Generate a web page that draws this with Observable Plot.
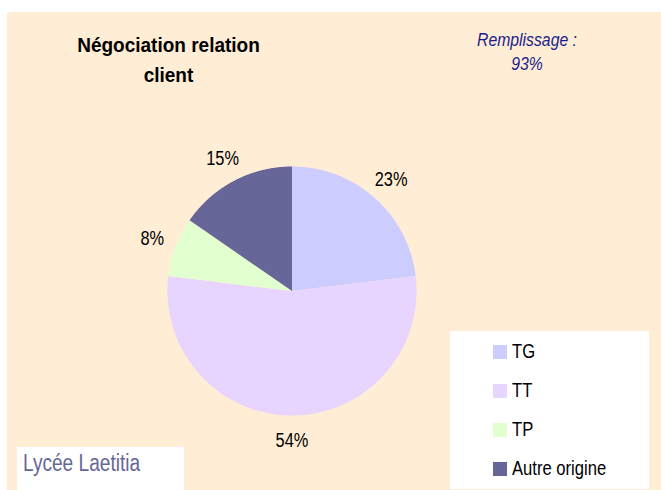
<!DOCTYPE html>
<html>
<head>
<meta charset="utf-8">
<script src="https://cdn.jsdelivr.net/npm/d3@7"></script>
<script src="https://cdn.jsdelivr.net/npm/@observablehq/plot@0.6"></script>
<style>
  html, body { margin: 0; padding: 0; background: #ffffff; }
  #wrap { position: relative; width: 661px; height: 490px; overflow: hidden; background: #ffffff; }
  #bg { position: absolute; left: 7px; top: 12px; right: 0; bottom: 0; background: #FFEDD5; }
  #chart { position: absolute; left: 0; top: 0; }
  .abs { position: absolute; white-space: nowrap; }
  .narrow { font-family: "Liberation Sans", Arial, sans-serif; transform: scaleX(0.83); }
  #title { left: 0; top: 30px; width: 337px; text-align: center; font-family: "Liberation Sans", Arial, sans-serif; font-weight: bold; font-size: 20px; line-height: 30px; color: #000; transform: scaleX(0.95); transform-origin: 168.5px 0; }
  #fill { left: 427px; top: 28px; width: 200px; text-align: center; font-style: italic; font-size: 19px; line-height: 24px; color: #1C1C8C; transform-origin: 100px 0; }
  #legend { left: 450px; top: 331px; width: 199px; height: 158px; background: #ffffff; }
  #school { left: 17px; top: 447px; width: 167px; height: 43px; background: #ffffff; }
  #schoolText { left: 23px; top: 452px; font-size: 23px; line-height: 23px; color: #666699; transform-origin: 0 0; }
  .sw { position: absolute; width: 14px; height: 14px; }
  .lt { position: absolute; font-size: 20px; line-height: 20px; color: #000; white-space: nowrap; transform-origin: 0 0; }
</style>
</head>
<body>
<div id="wrap">
  <div id="bg"></div>
  <div id="chart"></div>
  <div id="title" class="abs">Négociation relation<br>client</div>
  <div id="fill" class="abs narrow"></div>
  <div id="legend" class="abs"></div>
  <div id="school" class="abs"></div>
  <div id="schoolText" class="abs narrow">Lycée Laetitia</div>
</div>
<script>
// ---- data ----
const categories = ["TG", "TT", "TP", "Autre origine"];
const counts = [3, 7, 1, 2];
const colors = ["#CCCCFF", "#E8D5FF", "#E2FFD0", "#666699"];
const fillRate = "93%";

// ---- layout: pie centre (px) and radius (px) inside the 661x490 svg ----
const W = 661, H = 490, CX = 291.5, CY = 290.5, R = 124.5;

// ---- build slices (angles from 12 o'clock, clockwise), unit radius ----
const total = d3.sum(counts);
const pie = d3.pie().sort(null).value(d => d)(counts);
function pt(a, r) { return [r * Math.sin(a), -r * Math.cos(a)]; }
const slices = pie.map((p, i) => {
  const ring = [[0, 0]];
  const n = Math.max(2, Math.ceil((p.endAngle - p.startAngle) / 0.01));
  for (let k = 0; k <= n; k++) ring.push(pt(p.startAngle + (p.endAngle - p.startAngle) * k / n, 1));
  ring.push([0, 0]);
  return {type: "Feature", properties: {cat: categories[i]}, geometry: {type: "Polygon", coordinates: [ring]}};
});
// projection domain = whole svg expressed in pie-radius units
const x0 = -CX / R, x1 = (W - CX) / R, y0 = -CY / R, y1 = (H - CY) / R;
const viewport = {type: "Feature", properties: {}, geometry: {type: "Polygon",
  coordinates: [[[x0, y0], [x1, y0], [x1, y1], [x0, y1], [x0, y0]]]}};

const labelData = pie.map((p, i) => {
  const m = (p.startAngle + p.endAngle) / 2;
  const [x, y] = pt(m, 1.2);
  return {x, y, text: Math.round(100 * counts[i] / total) + "%"};
});

const chart = Plot.plot({
  width: W,
  height: H,
  margin: 0,
  projection: {type: "identity", domain: viewport, inset: 0},
  color: {domain: categories, range: colors},
  style: {background: "transparent", fontFamily: "'Liberation Sans', Arial, sans-serif"},
  marks: [
    Plot.geo(slices, {fill: d => d.properties.cat, stroke: "none"}),
    Plot.text(labelData, {x: "x", y: "y", text: "text", fontSize: 20.5, fill: "#000", textAnchor: "middle", lineAnchor: "middle"})
  ]
});
// condense label glyphs horizontally around their (centred) anchor
chart.querySelectorAll("text").forEach(el => {
  const tr = el.getAttribute("transform") || "";
  el.setAttribute("transform", tr + " scale(0.8,1)");
});
document.getElementById("chart").appendChild(chart);
document.getElementById("fill").innerHTML = "Remplissage :<br>" + fillRate;

// ---- legend ----
const legend = document.getElementById("legend");
categories.forEach((c, i) => {
  const base = 27 + i * 39; // baseline relative to legend box
  const sw = document.createElement("div");
  sw.className = "sw";
  sw.style.left = "43px";
  sw.style.top = (base - 13) + "px";
  sw.style.background = colors[i];
  legend.appendChild(sw);
  const t = document.createElement("div");
  t.className = "lt narrow";
  t.style.left = "62px";
  t.style.top = (base - 16.6) + "px";
  t.textContent = c;
  legend.appendChild(t);
});
</script>
</body>
</html>
